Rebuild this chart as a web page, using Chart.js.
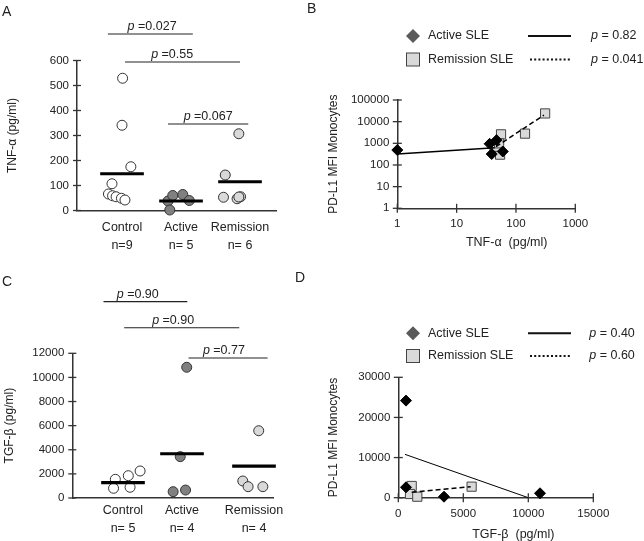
<!DOCTYPE html>
<html>
<head>
<meta charset="utf-8">
<script src="https://cdn.jsdelivr.net/npm/chart.js@4"></script>
<style>
  body { margin: 0; background: #fff; width: 644px; height: 541px; position: relative; overflow: hidden;
         font-family: "Liberation Sans", Arial, sans-serif; }
  .panel { position: absolute; }
  .tag { position: absolute; font-size: 14px; line-height: 15px; color: #222; }
</style>
</head>
<body>
<div class="panel" style="left:0;top:0"><canvas id="chartA" width="322" height="270"></canvas></div>
<div class="panel" style="left:322px;top:0"><canvas id="chartB" width="322" height="270"></canvas></div>
<div class="panel" style="left:0;top:270px"><canvas id="chartC" width="322" height="271"></canvas></div>
<div class="panel" style="left:322px;top:270px"><canvas id="chartD" width="322" height="271"></canvas></div>
<div class="tag" style="left:2px;top:4px">A</div>
<div class="tag" style="left:307px;top:1px">B</div>
<div class="tag" style="left:2px;top:274px">C</div>
<div class="tag" style="left:295px;top:270px">D</div>

<script>
// ---- A: TNF-alpha per group ----
const groupsA = ['Control', 'Active', 'Remission'];
const countsA = ['n=9', 'n= 5', 'n= 6'];
const tnfControl = [529, 341, 175, 107, 66, 59, 55, 49, 42];
const tnfActive = [38, 60, 64, 40, 2];
const tnfRemission = [142, 307, 53, 47, 55, 54];
const tnfMeans = [147, 38, 115];
const tnfP = ['0.027', '0.55', '0.067'];
const ticksTnf = [0, 100, 200, 300, 400, 500, 600];
// sideways spread of the dots inside a group, in group widths
const jitControlA = [0.01, 0, 0.15, -0.17, -0.23, -0.16, -0.10, -0.01, 0.05];
const jitActiveA = [-0.22, -0.14, 0.03, 0.14, -0.19];
const jitRemissionA = [-0.25, -0.02, -0.28, -0.05, 0.01, -0.02];

// ---- B: PD-L1 vs TNF-alpha (log/log) ----
const activeTnf = [1, 36, 47, 39, 60];
const activePdl1B = [490, 950, 1400, 320, 420];
const remissionTnf = [56, 142, 310, 54, 48, 52];
const remissionPdl1B = [2600, 2800, 24000, 300, 700, 1000];
const fitActiveBx = [1, 44];
const fitActiveBy = [320, 630];
const fitRemissionBx = [46, 296];
const fitRemissionBy = [700, 20000];
const keyP_B = ['0.82', '0.041'];
const ticksTnfLog = [1, 10, 100, 1000];
const ticksPdl1Log = [1, 10, 100, 1000, 10000, 100000];

// ---- C: TGF-beta per group ----
const groupsC = ['Control', 'Active', 'Remission'];
const countsC = ['n= 5', 'n= 4', 'n= 4'];
const tgfControl = [1550, 1850, 2240, 805, 890];
const tgfActive = [10840, 3430, 525, 660];
const tgfRemission = [5580, 1410, 940, 940];
const tgfMeans = [1270, 3670, 2650];
const tgfP = ['0.90', '0.90', '0.77'];
const ticksTgf = [0, 2000, 4000, 6000, 8000, 10000, 12000];
const jitControlC = [-0.13, 0.09, 0.29, -0.16, 0.12];
const jitActiveC = [0.08, -0.03, -0.15, 0.06];
const jitRemissionC = [0.08, -0.19, -0.10, 0.15];

// ---- D: PD-L1 vs TGF-beta ----
const activeTgf = [592, 592, 3515, 10900];
const activePdl1D = [24190, 2590, 250, 1100];
const remissionTgf = [1030, 900, 1460, 5640];
const remissionPdl1D = [2920, 920, 250, 2750];
const fitActiveDx = [515, 10000];
const fitActiveDy = [10800, 0];
const fitRemissionDx = [1030, 5570];
const fitRemissionDy = [1350, 2750];
const keyP_D = ['0.40', '0.60'];
const ticksTgfX = [0, 5000, 10000, 15000];
const ticksPdl1Lin = [0, 10000, 20000, 30000];

const FONT = '"Liberation Sans", Arial, sans-serif';
const INK = '#222';
const AXIS = '#333';
const WHITE = '#ffffff', DARK = '#808080', LIGHT = '#d9d9d9';

// layout: where the groups sit on the x scale, and the significance bars
const slotsA = [1, 2, 3];
const slotsC = [1, 2, 3.22];
const barsA = [
  { from: 0.76, to: 2.2, at: 706, tx: 1.51 },
  { from: 1.05, to: 3.0, at: 594, tx: 1.85 },
  { from: 1.78, to: 3.14, at: 346, tx: 2.46 }
];
const barsC = [
  { from: 0.67, to: 2.09, at: 16280, tx: 1.25 },
  { from: 1.02, to: 2.97, at: 14120, tx: 1.85 },
  { from: 2.11, to: 3.45, at: 11610, tx: 2.71 }
];

function pts(xs, ys) { return xs.map((x, i) => ({ x: x, y: ys[i] })); }
function dots(vals, jit, slot) { return vals.map((v, i) => ({ x: slot + jit[i], y: v })); }
function meanBar(m, slot) { return [{ x: slot - 0.37, y: m }, { x: slot + 0.37, y: m }]; }

// "p" in italics, the rest upright
function pText(ctx, x, y, rest, size, centered) {
  ctx.font = `italic ${size}px ${FONT}`;
  const pw = ctx.measureText('p').width;
  ctx.font = `${size}px ${FONT}`;
  const rw = ctx.measureText(rest).width;
  const x0 = centered ? x - (pw + rw) / 2 : x;
  ctx.fillStyle = INK;
  ctx.textAlign = 'left';
  ctx.textBaseline = 'middle';
  ctx.font = `italic ${size}px ${FONT}`;
  ctx.fillText('p', x0, y);
  ctx.font = `${size}px ${FONT}`;
  ctx.fillText(rest, x0 + pw, y);
}

function sigBars(bars, labels) {
  return {
    id: 'sigBars',
    afterDraw(chart) {
      const { ctx, scales: { x, y } } = chart;
      ctx.save();
      bars.forEach((b, i) => {
        const yy = y.getPixelForValue(b.at);
        ctx.strokeStyle = INK;
        ctx.lineWidth = 1.2;
        ctx.beginPath();
        ctx.moveTo(x.getPixelForValue(b.from), yy);
        ctx.lineTo(x.getPixelForValue(b.to), yy);
        ctx.stroke();
        pText(ctx, x.getPixelForValue(b.tx), yy - 7.5, ' =' + labels[i], 12.5, true);
      });
      ctx.restore();
    }
  };
}

// small ticks that cross the axis line
function crossTicks(ids, len) {
  return {
    id: 'crossTicks',
    afterDraw(chart) {
      const ctx = chart.ctx;
      ctx.save();
      ctx.strokeStyle = AXIS;
      ctx.lineWidth = 1.3;
      ids.forEach(id => {
        const s = chart.scales[id];
        s.ticks.forEach(t => {
          const p = s.getPixelForValue(t.value);
          ctx.beginPath();
          if (s.isHorizontal()) { ctx.moveTo(p, s.top - len); ctx.lineTo(p, s.top + len); }
          else { ctx.moveTo(s.right - len, p); ctx.lineTo(s.right + len, p); }
          ctx.stroke();
        });
      });
      ctx.restore();
    }
  };
}

// legend of the correlation panels + x title
function keyBox(pvals, rowY, pX, xTitle, titleX, titleY) {
  return {
    id: 'keyBox',
    afterDraw(chart) {
      const ctx = chart.ctx;
      ctx.save();
      // diamond
      ctx.fillStyle = '#5a5a5a';
      ctx.beginPath();
      ctx.moveTo(91, rowY[0] - 7); ctx.lineTo(98, rowY[0]); ctx.lineTo(91, rowY[0] + 7); ctx.lineTo(84, rowY[0]);
      ctx.closePath(); ctx.fill();
      // square
      ctx.fillStyle = LIGHT; ctx.strokeStyle = '#444'; ctx.lineWidth = 1;
      ctx.fillRect(84.5, rowY[1] - 6.5, 13, 13);
      ctx.strokeRect(84.5, rowY[1] - 6.5, 13, 13);
      ctx.fillStyle = INK;
      ctx.font = `12.5px ${FONT}`;
      ctx.textAlign = 'left'; ctx.textBaseline = 'middle';
      ctx.fillText('Active SLE', 106, rowY[0]);
      ctx.fillText('Remission SLE', 106, rowY[1]);
      ctx.strokeStyle = '#111'; ctx.lineWidth = 2;
      ctx.beginPath(); ctx.moveTo(206, rowY[0]); ctx.lineTo(249, rowY[0]); ctx.stroke();
      ctx.setLineDash([2, 2.2]);
      ctx.beginPath(); ctx.moveTo(208, rowY[1]); ctx.lineTo(250, rowY[1]); ctx.stroke();
      ctx.setLineDash([]);
      pText(ctx, pX, rowY[0], ' = ' + pvals[0], 12.5, false);
      pText(ctx, pX, rowY[1], ' = ' + pvals[1], 12.5, false);
      ctx.font = `12.5px ${FONT}`;
      ctx.fillStyle = INK; ctx.textAlign = 'center';
      ctx.fillText(xTitle, titleX, titleY);
      ctx.restore();
    }
  };
}

function yAxis(width, type, min, max, ticks, title, titlePad) {
  return {
    type: type, min: min, max: max,
    afterFit: s => { s.width = width; },
    afterBuildTicks: s => { s.ticks = ticks.map(v => ({ value: v })); },
    grid: { display: false, drawTicks: false },
    border: { color: AXIS, width: 1.5 },
    ticks: { color: INK, padding: 8, autoSkip: false, font: { family: FONT, size: 11.5 }, callback: v => String(v) },
    title: { display: true, text: title, color: INK, padding: { top: titlePad, bottom: 0 }, font: { family: FONT, size: 12 } }
  };
}

function xGroups(height, min, max, slots, names, counts, pad) {
  return {
    type: 'linear', min: min, max: max,
    afterFit: s => { s.height = height; },
    afterBuildTicks: s => { s.ticks = slots.map(v => ({ value: v })); },
    grid: { display: false, drawTicks: false },
    border: { color: AXIS, width: 1.5 },
    ticks: { color: INK, padding: pad, autoSkip: false, maxRotation: 0,
             font: { family: FONT, size: 12.5, lineHeight: 1.45 },
             callback: (v, i) => [names[i], counts[i]] }
  };
}

function xValues(height, type, min, max, ticks) {
  return {
    type: type, min: min, max: max,
    afterFit: s => { s.height = height; },
    afterBuildTicks: s => { s.ticks = ticks.map(v => ({ value: v })); },
    grid: { display: false, drawTicks: false },
    border: { color: AXIS, width: 1.5 },
    ticks: { color: INK, padding: 9, autoSkip: false, maxRotation: 0, font: { family: FONT, size: 11.5 }, callback: v => String(v) }
  };
}

function dotSet(data, fill) {
  return { data: data, pointStyle: 'circle', pointRadius: 5, pointBackgroundColor: fill,
           pointBorderColor: '#333', pointBorderWidth: 1, clip: false };
}
function lineSet(data, width, dash) {
  return { data: data, showLine: true, borderColor: '#000', borderWidth: width, borderDash: dash || [],
           pointRadius: 0, clip: false };
}
function diamondSet(data) {
  return { data: data, pointStyle: 'rectRot', pointRadius: 5.5, pointBackgroundColor: '#000',
           pointBorderColor: '#000', pointBorderWidth: 1, clip: false };
}
function squareSet(data) {
  return { data: data, pointStyle: 'rect', pointRadius: 6.5, pointBackgroundColor: LIGHT,
           pointBorderColor: '#444', pointBorderWidth: 1, clip: false };
}

const common = { responsive: false, animation: false, events: [],
                 plugins: { legend: { display: false }, tooltip: { enabled: false } } };

// A
new Chart(document.getElementById('chartA'), {
  type: 'scatter',
  data: { datasets: [
    lineSet(meanBar(tnfMeans[0], slotsA[0]), 3.2),
    lineSet(meanBar(tnfMeans[1], slotsA[1]), 3.2),
    lineSet(meanBar(tnfMeans[2], slotsA[2]), 3.2),
    dotSet(dots(tnfControl, jitControlA, slotsA[0]), WHITE),
    dotSet(dots(tnfActive, jitActiveA, slotsA[1]), DARK),
    dotSet(dots(tnfRemission, jitRemissionA, slotsA[2]), LIGHT)
  ] },
  options: Object.assign({}, common, {
    layout: { padding: { left: 0, top: 60.5, right: 46, bottom: 0 } },
    scales: {
      x: xGroups(59.5, 0.237, 3.61, slotsA, groupsA, countsA, 8),
      y: yAxis(77, 'linear', 0, 600, ticksTnf, 'TNF-\u03b1 (pg/ml)', 5.8)
    }
  }),
  plugins: [sigBars(barsA, tnfP), crossTicks(['y'], 4)]
});

// B
new Chart(document.getElementById('chartB'), {
  type: 'scatter',
  data: { datasets: [
    diamondSet(pts(activeTnf, activePdl1B)),
    lineSet(pts(fitActiveBx, fitActiveBy), 1.5),
    lineSet(pts(fitRemissionBx, fitRemissionBy), 1.5, [5, 3]),
    squareSet(pts(remissionTnf, remissionPdl1B))
  ] },
  options: Object.assign({}, common, {
    layout: { padding: { left: 0, top: 100, right: 68.7, bottom: 0 } },
    scales: {
      x: xValues(61.7, 'logarithmic', 1, 1000, ticksTnfLog),
      y: yAxis(75.3, 'logarithmic', 1, 100000, ticksPdl1Log, 'PD-L1 MFI Monocytes', 4.8)
    }
  }),
  plugins: [crossTicks(['x', 'y'], 4.5), keyBox(keyP_B, [36, 59.5], 269, 'TNF-\u03b1  (pg/ml)', 184.7, 243)]
});

// C
new Chart(document.getElementById('chartC'), {
  type: 'scatter',
  data: { datasets: [
    lineSet(meanBar(tgfMeans[0], slotsC[0]), 3.2),
    lineSet(meanBar(tgfMeans[1], slotsC[1]), 3.2),
    lineSet(meanBar(tgfMeans[2], slotsC[2]), 3.2),
    dotSet(dots(tgfControl, jitControlC, slotsC[0]), WHITE),
    dotSet(dots(tgfActive, jitActiveC, slotsC[1]), DARK),
    dotSet(dots(tgfRemission, jitRemissionC, slotsC[2]), LIGHT)
  ] },
  options: Object.assign({}, common, {
    layout: { padding: { left: 0, top: 83.3, right: 48.7, bottom: 0 } },
    scales: {
      x: xGroups(43, 0.141, 3.547, slotsC, groupsC, countsC, 3.5),
      y: yAxis(72.3, 'linear', 0, 12000, ticksTgf, 'TGF-\u03b2 (pg/ml)', 2.8)
    }
  }),
  plugins: [sigBars(barsC, tgfP), crossTicks(['y'], 4)]
});

// D
new Chart(document.getElementById('chartD'), {
  type: 'scatter',
  data: { datasets: [
    diamondSet(pts(activeTgf, activePdl1D)),
    lineSet(pts(fitActiveDx, fitActiveDy), 1),
    lineSet(pts(fitRemissionDx, fitRemissionDy), 1.5, [5, 3]),
    squareSet(pts(remissionTgf, remissionPdl1D))
  ] },
  options: Object.assign({}, common, {
    layout: { padding: { left: 0, top: 107.3, right: 50.7, bottom: 0 } },
    scales: {
      x: xValues(43.3, 'linear', 0, 15000, ticksTgfX),
      y: yAxis(76.3, 'linear', 0, 30000, ticksPdl1Lin, 'PD-L1 MFI Monocytes', 4.1)
    }
  }),
  plugins: [crossTicks(['x', 'y'], 4.5), keyBox(keyP_D, [63.3, 86], 267.3, 'TGF-\u03b2  (pg/ml)', 191.3, 264.3)]
});
</script>
</body>
</html>
